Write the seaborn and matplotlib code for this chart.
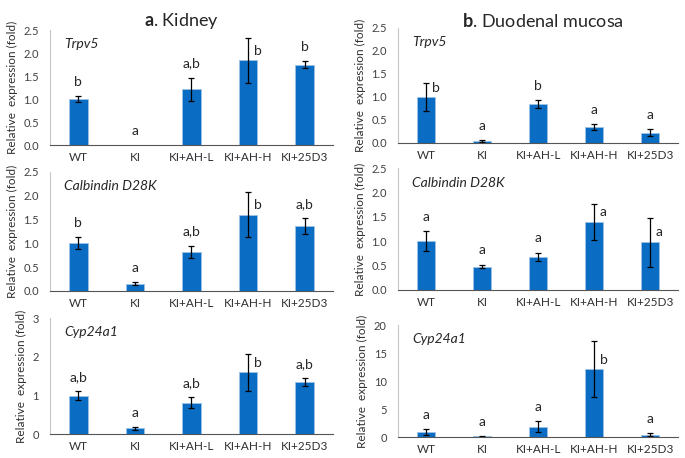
import matplotlib

matplotlib.use("Agg")
import matplotlib.pyplot as plt
import seaborn as sns
import pandas as pd

groups = ["WT", "KI", "KI+AH-L", "KI+AH-H", "KI+25D3"]

# kidney
kid_trpv5 = [1.0, 0.0, 1.22, 1.85, 1.75]
kid_trpv5_err = [0.07, 0.0, 0.25, 0.49, 0.07]
kid_trpv5_lab = ["b", "a", "a,b", "b", "b"]

kid_calb = [1.0, 0.15, 0.82, 1.6, 1.36]
kid_calb_err = [0.12, 0.03, 0.13, 0.47, 0.16]
kid_calb_lab = ["b", "a", "a,b", "b", "a,b"]

kid_cyp = [1.0, 0.15, 0.82, 1.6, 1.36]
kid_cyp_err = [0.12, 0.03, 0.13, 0.48, 0.10]
kid_cyp_lab = ["a,b", "a", "a,b", "b", "a,b"]

# duodenal mucosa
duo_trpv5 = [1.0, 0.05, 0.84, 0.35, 0.22]
duo_trpv5_err = [0.30, 0.02, 0.09, 0.07, 0.08]
duo_trpv5_lab = ["b", "a", "b", "a", "a"]

duo_calb = [1.0, 0.48, 0.68, 1.4, 0.98]
duo_calb_err = [0.20, 0.04, 0.08, 0.37, 0.50]
duo_calb_lab = ["a", "a", "a", "a", "a"]

duo_cyp = [1.0, 0.2, 1.9, 12.2, 0.5]
duo_cyp_err = [0.5, 0.05, 1.0, 5.0, 0.25]
duo_cyp_lab = ["a", "a", "a", "b", "a"]

sns.set_style("white")
plt.rcParams["font.family"] = ["Lato", "DejaVu Sans"]
plt.rcParams["mathtext.fontset"] = "custom"
plt.rcParams["mathtext.bf"] = "Lato:bold"
plt.rcParams["mathtext.rm"] = "Lato"

BLUE = "#0A6CC2"

fig = plt.figure(figsize=(6.85, 4.58), dpi=100)

panels = [
    # rect, gene, means, errs, letters, ymax, ticks, fmt, side-labels
    ([0.073, 0.683, 0.413, 0.251], "Trpv5", kid_trpv5, kid_trpv5_err, kid_trpv5_lab, 2.5, [0, 0.5, 1, 1.5, 2, 2.5], "{:.1f}", [3]),
    ([0.073, 0.365, 0.413, 0.260], "Calbindin D28K", kid_calb, kid_calb_err, kid_calb_lab, 2.5, [0, 0.5, 1, 1.5, 2, 2.5], "{:.1f}", [3]),
    ([0.073, 0.052, 0.413, 0.253], "Cyp24a1", kid_cyp, kid_cyp_err, kid_cyp_lab, 3, [0, 1, 2, 3], "{:.0f}", [3]),
    ([0.581, 0.688, 0.409, 0.251], "Trpv5", duo_trpv5, duo_trpv5_err, duo_trpv5_lab, 2.5, [0, 0.5, 1, 1.5, 2, 2.5], "{:.1f}", [0]),
    ([0.581, 0.367, 0.409, 0.266], "Calbindin D28K", duo_calb, duo_calb_err, duo_calb_lab, 2.5, [0, 0.5, 1, 1.5, 2, 2.5], "{:.1f}", [3, 4]),
    ([0.581, 0.045, 0.409, 0.245], "Cyp24a1", duo_cyp, duo_cyp_err, duo_cyp_lab, 20, [0, 5, 10, 15, 20], "{:.0f}", [3]),
]

for rect, gene, means, errs, letters, ymax, ticks, fmt, side in panels:
    ax = fig.add_axes(rect)
    df = pd.DataFrame({"group": groups, "value": means})
    sns.barplot(data=df, x="group", y="value", ax=ax, color=BLUE, width=0.33,
                errorbar=None, edgecolor="#9DC3E6", linewidth=0.6, saturation=1)
    xs = list(range(len(groups)))
    ax.errorbar([x for x, e in zip(xs, errs) if e > 0],
                [m for m, e in zip(means, errs) if e > 0],
                yerr=[e for e in errs if e > 0], fmt="none", ecolor="black",
                elinewidth=0.9, capsize=2, capthick=0.9)
    for x, m, e, lab in zip(xs, means, errs, letters):
        if x in side:
            ax.text(x + 0.1, m + 0.08 * ymax, lab, ha="left", va="center", fontsize=10)
        else:
            ax.text(x, m + e + 0.07 * ymax, lab, ha="center", va="bottom", fontsize=10)
    ax.set_xlim(-0.5, 4.5)
    ax.set_ylim(0, ymax)
    ax.set_yticks(ticks)
    ax.set_yticklabels([fmt.format(t) for t in ticks], fontsize=8, color="#404040")
    ax.tick_params(axis="x", labelsize=8.5, colors="#303030", length=0, pad=5)
    ax.tick_params(axis="y", length=0, pad=8)
    ax.set_xlabel("")
    ax.set_ylabel("Relative  expression (fold)", fontsize=8.5, color="#303030")
    for s in ["top", "right"]:
        ax.spines[s].set_visible(False)
    ax.spines["left"].set_color("#C8C8C8")
    ax.spines["bottom"].set_color("#555555")
    ax.text(0.05, 0.93, gene, transform=ax.transAxes, style="italic",
            fontsize=10, ha="left", va="top")

fig.text(0.265, 0.955, r"$\bf{a}$. Kidney", ha="center", va="center", fontsize=13)
fig.text(0.792, 0.955, r"$\bf{b}$. Duodenal mucosa", ha="center", va="center", fontsize=13)

fig.savefig("out.png", dpi=100)
